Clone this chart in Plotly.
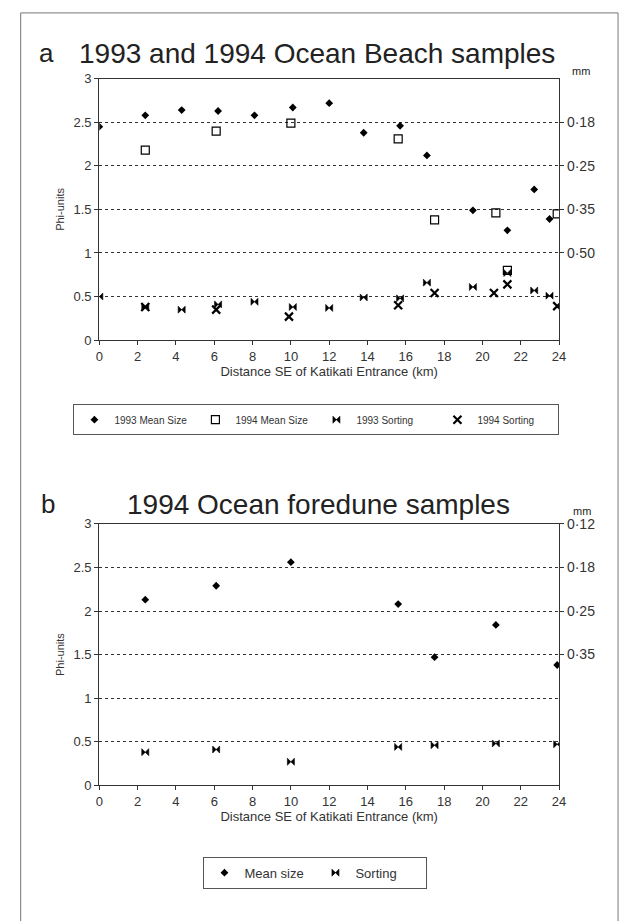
import plotly.graph_objects as go

# ---------------- Data ----------------
# Panel a: 1993 and 1994 Ocean Beach samples
a93_km = [0, 2.4, 4.3, 6.2, 8.1, 10.1, 12.0, 13.8, 15.7, 17.1, 19.5, 21.3, 22.7, 23.5]
a93_mean = [2.45, 2.58, 2.64, 2.63, 2.58, 2.67, 2.72, 2.38, 2.46, 2.12, 1.49, 1.26, 1.73, 1.39]
a93_sort = [0.50, 0.38, 0.35, 0.41, 0.44, 0.38, 0.37, 0.49, 0.48, 0.66, 0.61, 0.77, 0.57, 0.51]

a94_km = [2.4, 6.1, 10.0, 15.6, 17.5, 20.7, 21.3, 23.9]
a94_mean = [2.18, 2.40, 2.49, 2.31, 1.38, 1.46, 0.80, 1.45]
a94_sort_km = [2.4, 6.1, 9.9, 15.6, 17.5, 20.6, 21.3, 23.9]
a94_sort = [0.38, 0.35, 0.27, 0.40, 0.54, 0.54, 0.64, 0.39]

# Panel b: 1994 Ocean foredune samples
b_km = [2.4, 6.1, 10.0, 15.6, 17.5, 20.7, 23.9]
b_mean = [2.13, 2.29, 2.56, 2.08, 1.47, 1.84, 1.38]
b_sort = [0.38, 0.41, 0.27, 0.44, 0.46, 0.48, 0.47]

# Axis ticks
x_ticks = list(range(0, 25, 2))
phi_ticks = [0, 0.5, 1, 1.5, 2, 2.5, 3]
phi_ticktext = ["0", "0.5", "1", "1.5", "2", "2.5", "3"]
mm_a_vals = [2.5, 2, 1.5, 1]
mm_a_text = ["0·18", "0·25", "0·35", "0·50"]
mm_b_vals = [3, 2.5, 2, 1.5]
mm_b_text = ["0·12", "0·18", "0·25", "0·35"]

# ---------------- Figure ----------------
W, H = 628, 921
FONT = "Liberation Sans, Arial, Helvetica, sans-serif"
INK = "#222222"

def px(x):
    return x / W

def py(y):
    return 1 - y / H

fig = go.Figure()

diamond = dict(symbol="diamond", size=6, color="black")
square = dict(symbol="square-open", size=8, color="black", line=dict(width=1.2, color="black"))
bowtie = dict(symbol="bowtie", size=7, color="black", line=dict(width=0.6, color="black"))
xmark = dict(symbol="x-thin-open", size=8, color="black", line=dict(width=2.2, color="black"))

fig.add_trace(go.Scatter(x=a93_km, y=a93_mean, mode="markers", marker=diamond,
                         name="1993 Mean Size", xaxis="x", yaxis="y", legend="legend"))
fig.add_trace(go.Scatter(x=a94_km, y=a94_mean, mode="markers", marker=square,
                         name="1994 Mean Size", xaxis="x", yaxis="y", legend="legend"))
fig.add_trace(go.Scatter(x=a93_km, y=a93_sort, mode="markers", marker=bowtie,
                         name="1993 Sorting", xaxis="x", yaxis="y", legend="legend"))
fig.add_trace(go.Scatter(x=a94_sort_km, y=a94_sort, mode="markers", marker=xmark,
                         name="1994 Sorting", xaxis="x", yaxis="y", legend="legend"))

fig.add_trace(go.Scatter(x=b_km, y=b_mean, mode="markers", marker=diamond,
                         name="Mean size", xaxis="x2", yaxis="y3", legend="legend2"))
fig.add_trace(go.Scatter(x=b_km, y=b_sort, mode="markers", marker=bowtie,
                         name="Sorting", xaxis="x2", yaxis="y3", legend="legend2"))

xdom = [px(97), px(565)]
ya_dom = [py(338), py(72)]
yb_dom = [py(791), py(525)]

tickfont = dict(family=FONT, size=13, color="#333333")

def xaxis(anchor):
    return dict(domain=xdom, anchor=anchor, range=[0, 24], tickvals=x_ticks,
                ticks="outside", ticklen=4, tickcolor="#333", showline=True,
                linecolor="#333", linewidth=1.2, mirror=True, showgrid=False,
                zeroline=False, tickfont=tickfont,
                title=dict(text="Distance SE of Katikati Entrance (km)",
                           font=dict(family=FONT, size=13, color="#333"), standoff=2))

def yaxis(anchor, dom):
    return dict(domain=dom, anchor=anchor, range=[0, 3], tickvals=phi_ticks,
                ticktext=phi_ticktext, ticks="outside", ticklen=4, tickcolor="#333",
                showline=True, linecolor="#333", linewidth=1.2, mirror=True,
                showgrid=True, gridcolor="#333333", griddash="dot", gridwidth=1,
                zeroline=False, tickfont=tickfont,
                title=dict(text="Phi-units", font=dict(family=FONT, size=11, color="#333"),
                           standoff=6))

def yright(overlay, vals, text, dom):
    return dict(domain=dom, overlaying=overlay, side="right", range=[0, 3],
                tickvals=vals, ticktext=text, ticks="outside", ticklen=4,
                tickcolor="#333", showline=False, showgrid=False, zeroline=False,
                tickfont=dict(family=FONT, size=14, color="#333"),
                anchor="x" if overlay == "y" else "x2")

fig.update_layout(
    width=W, height=H,
    margin=dict(l=0, r=0, t=0, b=0),
    paper_bgcolor="white", plot_bgcolor="white",
    font=dict(family=FONT, color=INK),
    xaxis=xaxis("y"),
    yaxis=yaxis("x", ya_dom),
    yaxis2=yright("y", mm_a_vals, mm_a_text, ya_dom),
    xaxis2=xaxis("y3"),
    yaxis3=yaxis("x2", yb_dom),
    yaxis4=yright("y3", mm_b_vals, mm_b_text, yb_dom),
    legend=dict(orientation="h", x=px(318), y=py(419), xanchor="center", yanchor="middle",
                bordercolor="#555", borderwidth=1, bgcolor="white",
                font=dict(family=FONT, size=10, color="#333"),
                entrywidth=76, entrywidthmode="pixels", itemsizing="trace",
                itemwidth=30, tracegroupgap=0),
    legend2=dict(orientation="h", x=px(317), y=py(880), xanchor="center", yanchor="middle",
                 bordercolor="#555", borderwidth=1, bgcolor="white",
                 font=dict(family=FONT, size=13, color="#333"),
                 entrywidth=66, entrywidthmode="pixels", itemsizing="trace",
                 itemwidth=30),
    showlegend=True,
)

# empty traces so the right-hand mm axes render
fig.add_trace(go.Scatter(x=[None], y=[None], xaxis="x", yaxis="y2", showlegend=False))
fig.add_trace(go.Scatter(x=[None], y=[None], xaxis="x2", yaxis="y4", showlegend=False))

ann = []
def text(x, y, s, size, anchor="left"):
    ann.append(dict(text=s, x=px(x), y=py(y), xref="paper", yref="paper",
                    xanchor=anchor, yanchor="middle", showarrow=False,
                    font=dict(family=FONT, size=size, color=INK)))

text(34, 46, "a", 26)
text(74, 46, "1993 and 1994 Ocean Beach samples", 28)
text(576, 64, "mm", 11)
text(36, 505, "b", 26)
text(123, 505, "1994 Ocean foredune samples", 28)
text(577, 512, "mm", 11)
fig.update_layout(annotations=ann)

fig.add_shape(type="rect", xref="paper", yref="paper", x0=px(17), x1=px(625),
              y0=py(930), y1=py(5), line=dict(color="#777", width=1))

fig.write_html("out.html", config={"displayModeBar": False},
               post_script="document.body.style.margin='0';document.body.style.overflow='hidden';")
